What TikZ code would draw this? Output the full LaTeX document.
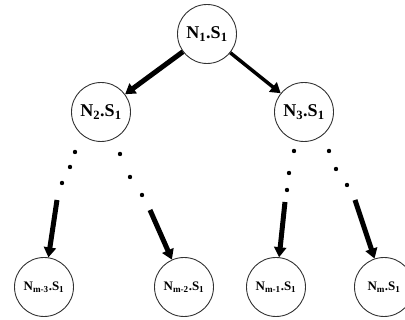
\documentclass[tikz,border=0pt]{standalone}
\usepackage{fontspec}
\setmainfont{Liberation Serif}
\usetikzlibrary{arrows.meta}
\begin{document}
\begin{tikzpicture}[x=1pt,y=1pt,
    tnode/.style={draw=black!80,line width=0.9pt,circle,minimum size=59pt,inner sep=0pt,font=\fontsize{18}{18}\selectfont\bfseries},
    leaf/.style={tnode,font=\fontsize{13}{13}\selectfont\bfseries},
    link/.style={line width=5pt,-{Triangle[length=10pt,width=12pt]}}]
    \useasboundingbox (0,0) rectangle (405,320);
    \node[tnode] (n1) at (207,286) {N\textsubscript{1}.S\textsubscript{1}};
    \node[tnode] (n2) at (101,208) {N\textsubscript{2}.S\textsubscript{1}};
    \node[tnode] (n3) at (304,208) {N\textsubscript{3}.S\textsubscript{1}};
    \node[leaf] (b1) at (44,33) {N\textsubscript{m-3}.S\textsubscript{1}};
    \node[leaf] (b2) at (184,33) {N\textsubscript{m-2}.S\textsubscript{1}};
    \node[leaf] (b3) at (276,33) {N\textsubscript{m-1}.S\textsubscript{1}};
    \node[leaf] (b4) at (384,33) {N\textsubscript{m}.S\textsubscript{1}};
    \draw[link] (n1) -- (n2);
    \draw[link,line width=3.5pt] (n1) -- (n3);
    % dots under the second level
    \foreach \p in {(75,168),(70,153),(62,137),(120,166),(130,143),(142,125),
                    (294,169),(289,147),(287,130),(329,169),(336,151),(347,135)}
        \fill \p circle (2.2pt);
    \coordinate (s1) at (57,120);
    \coordinate (s2) at (150,110);
    \coordinate (s3) at (285,118);
    \coordinate (s4) at (355,120);
    \draw[link] (s1) -- (b1);
    \draw[link] (s2) -- (b2);
    \draw[link] (s3) -- (b3);
    \draw[link] (s4) -- (b4);
\end{tikzpicture}
\end{document}
